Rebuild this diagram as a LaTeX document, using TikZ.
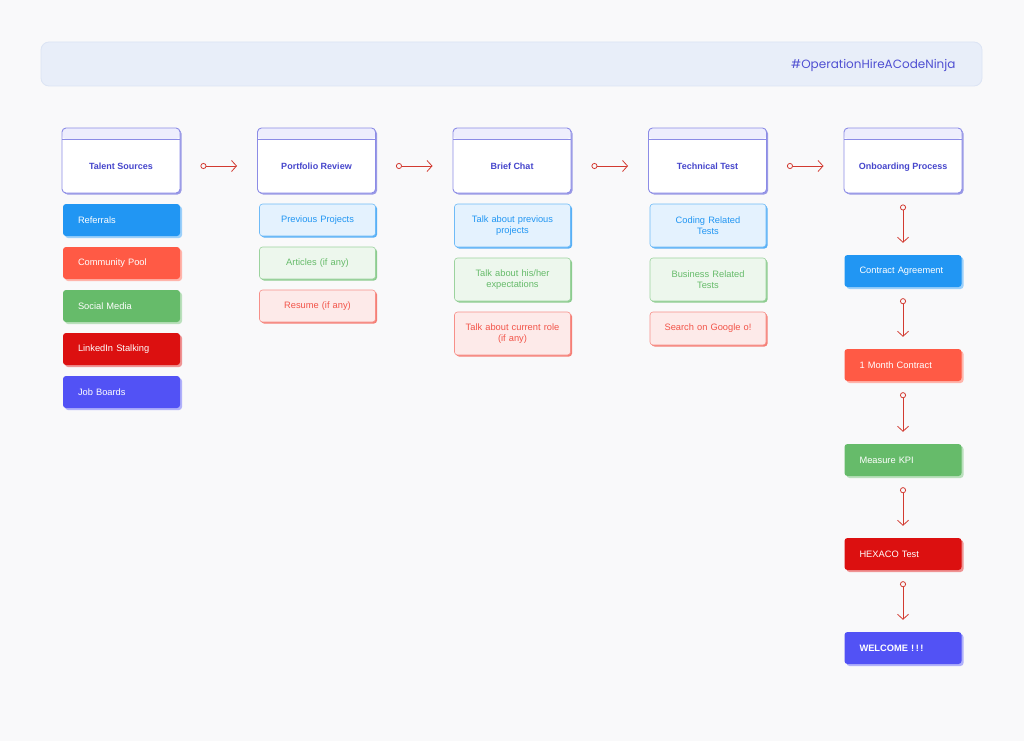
\documentclass[tikz,border=0pt]{standalone}
\usepackage{fontspec}
\setmainfont{Liberation Sans}
\newfontfamily\tagfont{Poppins}
\usetikzlibrary{arrows.meta,shadows}

\definecolor{pagebg}{HTML}{F9F9FA}
\definecolor{bannerbg}{HTML}{E8EEF9}
\definecolor{bannerline}{HTML}{DCE4F4}
\definecolor{tagtext}{HTML}{4F4FD2}
\definecolor{stageline}{HTML}{8C8CE6}
\definecolor{stageband}{HTML}{EEEEFD}
\definecolor{stageshadow}{HTML}{9A9AE6}
\definecolor{stagetext}{HTML}{4646CC}
\definecolor{flowred}{HTML}{D23A30}
\definecolor{cblue}{HTML}{2196F3}
\definecolor{ccoral}{HTML}{FF5A45}
\definecolor{cgreen}{HTML}{66BB6A}
\definecolor{cred}{HTML}{DC1010}
\definecolor{cindigo}{HTML}{5252F5}
\definecolor{csoftred}{HTML}{F25449}

\begin{document}
\begin{tikzpicture}[x=1pt,y=-1pt,
    stage/.style={draw=stageline,fill=white,rounded corners=4pt,line width=0.9pt,
        minimum width=118pt,minimum height=65pt,text height=21pt,text depth=3pt,
        font={\fontsize{9}{11}\selectfont\bfseries},text=stagetext,
        general shadow={fill=stageshadow,shadow xshift=1.5pt,shadow yshift=-1.5pt},
        path picture={
            \fill[stageband](path picture bounding box.north west) rectangle ([yshift=-11pt]path picture bounding box.north east);
            \draw[stageline,line width=0.7pt]([yshift=-11pt]path picture bounding box.north west)--([yshift=-11pt]path picture bounding box.north east);}},
    solid/.style={rounded corners=3pt,minimum width=117pt,minimum height=32pt,
        inner xsep=15pt,text width=87pt,align=left,
        font={\fontsize{9.3}{11}\selectfont},text=white,fill=#1,
        general shadow={fill=#1!45,shadow xshift=2pt,shadow yshift=-2pt}},
    soft/.style={rounded corners=3pt,minimum width=116pt,minimum height=32pt,
        text width=106pt,align=center,line width=0.6pt,
        font={\fontsize{9.3}{11}\selectfont},draw=#1!65,fill=#1!12,text=#1,
        general shadow={fill=#1!75,shadow xshift=1.5pt,shadow yshift=-1.5pt}},
    flow/.style={draw=flowred,line width=0.8pt,
        {Circle[open,length=6pt,width=6pt]}-{Straight Barb[length=5pt,width=11pt]}}]

\fill[pagebg](0,0) rectangle (1024,741);

% banner
\node[draw=bannerline,fill=bannerbg,rounded corners=8pt,line width=0.8pt,
    minimum width=941pt,minimum height=44pt](banner) at (511.5,64){};
\node[anchor=east,text=tagtext,font={\tagfont\fontsize{12}{14}\selectfont}](tag) at (959,65.5){\#OperationHireACodeNinja};

% stages
\node[stage](talent) at (121,160.5){Talent Sources};
\node[stage](portfolio) at (316.5,160.5){Portfolio Review};
\node[stage](chat) at (512,160.5){Brief Chat};
\node[stage](techtest) at (707.5,160.5){Technical Test};
\node[stage](onboard) at (903,160.5){Onboarding Process};

\draw[flow,shorten <=20pt,shorten >=20pt]([yshift=-5.5pt]talent.east)--([yshift=-5.5pt]portfolio.west);
\draw[flow,shorten <=20pt,shorten >=20pt]([yshift=-5.5pt]portfolio.east)--([yshift=-5.5pt]chat.west);
\draw[flow,shorten <=20pt,shorten >=20pt]([yshift=-5.5pt]chat.east)--([yshift=-5.5pt]techtest.west);
\draw[flow,shorten <=20pt,shorten >=20pt]([yshift=-5.5pt]techtest.east)--([yshift=-5.5pt]onboard.west);

% talent sources
\node[solid=cblue](referrals) at (121.5,220){Referrals};
\node[solid=ccoral](pool) at (121.5,263){Community Pool};
\node[solid=cgreen](social) at (121.5,306){Social Media};
\node[solid=cred](linkedin) at (121.5,349){LinkedIn Stalking};
\node[solid=cindigo](jobboards) at (121.5,392){Job Boards};

% portfolio review
\node[soft=cblue](projects) at (317.5,220){Previous Projects};
\node[soft=cgreen](articles) at (317.5,263){Articles (if any)};
\node[soft=csoftred](resume) at (317.5,306){Resume (if any)};

% brief chat
\node[soft=cblue,minimum height=43pt](prevtalk) at (512.5,225.5){Talk about previous\\projects};
\node[soft=cgreen,minimum height=43pt](expect) at (512.5,279.5){Talk about his/her\\expectations};
\node[soft=csoftred,minimum height=43pt](currole) at (512.5,333.5){Talk about current role\\(if any)};

% technical test
\node[soft=cblue,minimum height=43pt](coding) at (708,225.5){Coding Related\\Tests};
\node[soft=cgreen,minimum height=43pt](business) at (708,279.5){Business Related\\Tests};
\node[soft=csoftred,minimum height=33pt](google) at (708,328.5){Search on Google o!};

% onboarding
\node[solid=cblue](contract) at (903,271){Contract Agreement};
\node[solid=ccoral](month) at (903,365){1 Month Contract};
\node[solid=cgreen](kpi) at (903,460){Measure KPI};
\node[solid=cred](hexaco) at (903,554){HEXACO Test};
\node[solid=cindigo,font={\fontsize{9.3}{11}\selectfont\bfseries}](welcome) at (903,648){WELCOME !\,!\,!};

\draw[flow,shorten <=11pt,shorten >=12pt](onboard)--(contract);
\draw[flow,shorten <=11pt,shorten >=12pt](contract)--(month);
\draw[flow,shorten <=11pt,shorten >=12pt](month)--(kpi);
\draw[flow,shorten <=11pt,shorten >=12pt](kpi)--(hexaco);
\draw[flow,shorten <=11pt,shorten >=12pt](hexaco)--(welcome);

\end{tikzpicture}
\end{document}
